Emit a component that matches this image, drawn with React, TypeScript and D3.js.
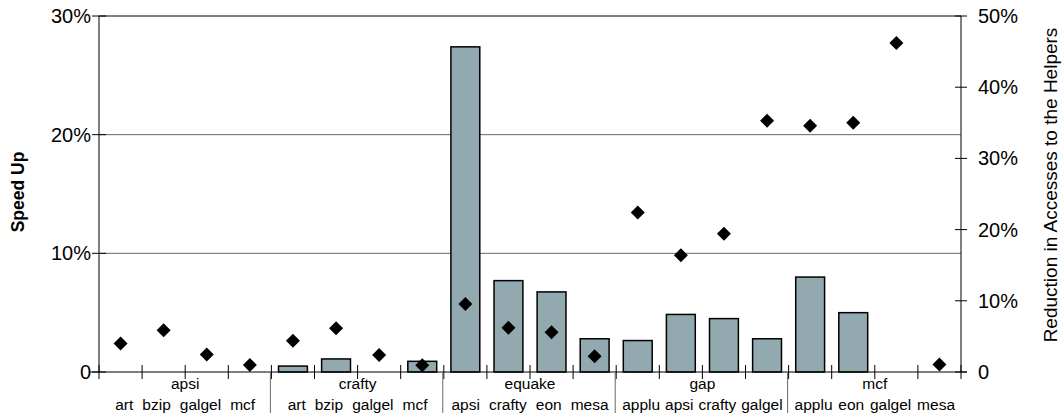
import React, { useEffect, useRef } from "react";
import * as d3 from "d3";

const groups = ["apsi", "crafty", "equake", "gap", "mcf"];
const categories = [
  "art", "bzip", "galgel", "mcf",
  "art", "bzip", "galgel", "mcf",
  "apsi", "crafty", "eon", "mesa",
  "applu", "apsi", "crafty", "galgel",
  "applu", "eon", "galgel", "mesa",
];
// speed up (%), left axis
const speedUp = [
  0, 0, 0, 0,
  0.5, 1.1, 0, 0.9,
  27.4, 7.7, 6.75, 2.8,
  2.65, 4.85, 4.5, 2.8,
  8.0, 5.0, 0, 0,
];
// reduction in accesses to the helpers (%), right axis
const reduction = [
  4.0, 5.85, 2.45, 1.0,
  4.4, 6.15, 2.4, 0.95,
  9.55, 6.2, 5.6, 2.2,
  22.4, 16.4, 19.4, 35.3,
  34.6, 35.0, 46.2, 1.05,
];
const leftTicks = [0, 10, 20, 30];
const rightTicks = [0, 10, 20, 30, 40, 50];

function App() {
  const svgRef = useRef<SVGSVGElement>(null);

  useEffect(() => {
    const width = 1063;
    const height = 417;
    const left = 99;
    const right = 961;
    const top = 16;
    const bottom = 372;
    const font = "'Liberation Sans', Arial, Helvetica, sans-serif";
    const perGroup = categories.length / groups.length;

    const svg = d3.select(svgRef.current);
    svg.selectAll("*").remove();
    svg.attr("width", width).attr("height", height);

    const idx = categories.map((_, i) => i);
    const x = d3
      .scaleBand<number>()
      .domain(idx)
      .range([left, right])
      .paddingInner(0.33)
      .paddingOuter(0.165);
    const xEdge = d3.scaleLinear().domain([0, categories.length]).range([left, right]);
    const yL = d3.scaleLinear().domain([0, 30]).range([bottom, top]);
    const yR = d3.scaleLinear().domain([0, 50]).range([bottom, top]);

    // gridlines
    svg
      .append("g")
      .selectAll("line")
      .data(leftTicks.filter((t) => t > 0))
      .enter()
      .append("line")
      .attr("x1", left)
      .attr("x2", right)
      .attr("y1", (d) => yL(d))
      .attr("y2", (d) => yL(d))
      .attr("stroke", (d) => (d === 30 ? "#000" : "#666"))
      .attr("stroke-width", 1);

    // bars
    svg
      .append("g")
      .selectAll("rect")
      .data(idx.filter((i) => speedUp[i] > 0))
      .enter()
      .append("rect")
      .attr("x", (i) => x(i)!)
      .attr("y", (i) => yL(speedUp[i]))
      .attr("width", x.bandwidth())
      .attr("height", (i) => bottom - yL(speedUp[i]))
      .attr("fill", "#93a9b0")
      .attr("stroke", "#000")
      .attr("stroke-width", 1.5);

    // left axis
    const la = svg.append("g");
    la.append("line")
      .attr("x1", left).attr("x2", left)
      .attr("y1", top).attr("y2", bottom)
      .attr("stroke", "#000");
    la.selectAll("line.tick")
      .data(leftTicks)
      .enter()
      .append("line")
      .attr("class", "tick")
      .attr("x1", left - 7).attr("x2", left + 7)
      .attr("y1", (d) => yL(d)).attr("y2", (d) => yL(d))
      .attr("stroke", "#000");
    la.selectAll("text")
      .data(leftTicks)
      .enter()
      .append("text")
      .attr("x", left - 8)
      .attr("y", (d) => yL(d) + 7)
      .attr("text-anchor", "end")
      .attr("font-family", font)
      .attr("font-size", 20)
      .text((d) => (d === 0 ? "0" : d + "%"));

    // right axis
    const ra = svg.append("g");
    ra.append("line")
      .attr("x1", right).attr("x2", right)
      .attr("y1", top).attr("y2", bottom)
      .attr("stroke", "#000");
    ra.selectAll("line.tick")
      .data(rightTicks)
      .enter()
      .append("line")
      .attr("class", "tick")
      .attr("x1", right - 6).attr("x2", right + 6)
      .attr("y1", (d) => yR(d)).attr("y2", (d) => yR(d))
      .attr("stroke", "#000");
    ra.selectAll("text")
      .data(rightTicks)
      .enter()
      .append("text")
      .attr("x", right + 17)
      .attr("y", (d) => yR(d) + 7)
      .attr("font-family", font)
      .attr("font-size", 20)
      .text((d) => (d === 0 ? "0" : d + "%"));

    // x axis
    const xa = svg.append("g");
    xa.append("line")
      .attr("x1", left - 9).attr("x2", right + 6)
      .attr("y1", bottom).attr("y2", bottom)
      .attr("stroke", "#000");
    xa.selectAll("line.tick")
      .data(d3.range(categories.length + 1))
      .enter()
      .append("line")
      .attr("class", "tick")
      .attr("x1", (i) => xEdge(i)).attr("x2", (i) => xEdge(i))
      .attr("y1", bottom - 7).attr("y2", bottom + 7)
      .attr("stroke", "#000");
    xa.selectAll("line.sep")
      .data(d3.range(1, groups.length).map((g) => g * perGroup))
      .enter()
      .append("line")
      .attr("class", "sep")
      .attr("x1", (i) => xEdge(i) - 1).attr("x2", (i) => xEdge(i) - 1)
      .attr("y1", bottom + 1).attr("y2", 413)
      .attr("stroke", "#666");
    xa.selectAll("text.group")
      .data(groups)
      .enter()
      .append("text")
      .attr("class", "group")
      .attr("x", (_, g) => xEdge(g * perGroup + perGroup / 2))
      .attr("y", 389)
      .attr("text-anchor", "middle")
      .attr("font-family", font)
      .attr("font-size", 15.5)
      .text((d) => d);

    // category labels: laid out as one line per group, centred on the group
    groups.forEach((_, g) => {
      const names = categories.slice(g * perGroup, (g + 1) * perGroup);
      const t = xa
        .append("text")
        .attr("y", 410)
        .attr("font-family", font)
        .attr("font-size", 15.5);
      const spans = names.map((n) => t.append("tspan").text(n));
      const widths = spans.map((s) => (s.node() as SVGTSpanElement).getComputedTextLength());
      const textW = d3.sum(widths);
      const groupW = xEdge(perGroup) - xEdge(0);
      const gap = Math.min(9, (groupW - 12 - textW) / (names.length - 1));
      const total = textW + gap * (names.length - 1);
      let cx = xEdge(g * perGroup + perGroup / 2) - total / 2;
      spans.forEach((s, k) => {
        s.attr("x", cx);
        cx += widths[k] + gap;
      });
    });

    // diamonds
    const r = 7;
    svg
      .append("g")
      .selectAll("path")
      .data(idx)
      .enter()
      .append("path")
      .attr("transform", (i) => `translate(${x(i)! + x.bandwidth() / 2},${yR(reduction[i])})`)
      .attr("d", `M0,${-r}L${r},0L0,${r}L${-r},0Z`)
      .attr("fill", "#000");

    // axis titles
    svg
      .append("text")
      .attr("transform", `translate(24,192) rotate(-90)`)
      .attr("text-anchor", "middle")
      .attr("font-family", font)
      .attr("font-weight", "bold")
      .attr("font-size", 17.5)
      .text("Speed Up");
    svg
      .append("text")
      .attr("transform", `translate(1057,185) rotate(-90)`)
      .attr("text-anchor", "middle")
      .attr("font-family", font)
      .attr("font-size", 19)
      .text("Reduction in Accesses to the Helpers");
  }, []);

  return (
    <svg
      ref={svgRef}
      style={{ position: "absolute", left: 0, top: 0, background: "#fff" }}
    ></svg>
  );
}

export default App;
